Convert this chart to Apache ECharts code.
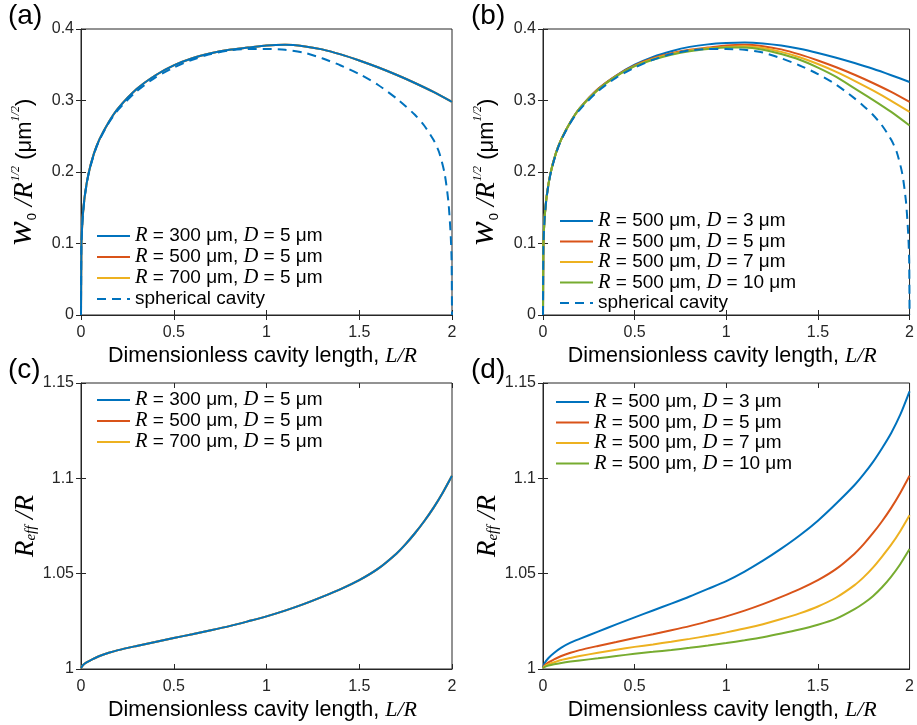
<!DOCTYPE html>
<html>
<head>
<meta charset="utf-8">
<script src="https://cdn.jsdelivr.net/npm/echarts@6/dist/echarts.min.js"></script>
<style>
  html, body { margin: 0; padding: 0; background: #fff; }
  #chart { width: 917px; height: 725px; }
</style>
</head>
<body>
<div id="chart"></div>
<script>
// ---- Waist size w0/R^(1/2) versus dimensionless cavity length L/R ----
const xsWaist = [0, 0.002, 0.005, 0.01, 0.02, 0.04, 0.07, 0.1, 0.15, 0.2, 0.3, 0.4, 0.5, 0.6, 0.7,
                 0.8, 0.9, 1.0, 1.1, 1.2, 1.3, 1.4, 1.5, 1.6, 1.7, 1.8, 1.9, 2.0];
// D = 5 um (curves for R = 300, 500 and 700 um coincide)
const waistD5 = [0, 0.093, 0.118, 0.140, 0.166, 0.197, 0.226, 0.246, 0.270, 0.289, 0.316, 0.335, 0.349, 0.359, 0.366,
                 0.371, 0.374, 0.377, 0.378, 0.376, 0.3715, 0.3645, 0.356, 0.3465, 0.336, 0.3245, 0.312, 0.298];
const waistD3 = [0, 0.093, 0.118, 0.140, 0.166, 0.197, 0.226, 0.246, 0.270, 0.289, 0.316, 0.335, 0.350, 0.361, 0.369,
                 0.375, 0.3785, 0.3803, 0.381, 0.3798, 0.3768, 0.3723, 0.3665, 0.3598, 0.3524, 0.3444, 0.3354, 0.3259];
const waistD7 = [0, 0.093, 0.118, 0.140, 0.166, 0.197, 0.226, 0.246, 0.270, 0.289, 0.315, 0.334, 0.348, 0.358, 0.365,
                 0.370, 0.373, 0.375, 0.376, 0.3735, 0.368, 0.3605, 0.351, 0.340, 0.3275, 0.314, 0.2995, 0.284];
const waistD10 = [0, 0.093, 0.118, 0.140, 0.166, 0.197, 0.226, 0.246, 0.270, 0.289, 0.315, 0.334, 0.348, 0.357, 0.364,
                  0.369, 0.372, 0.374, 0.374, 0.371, 0.365, 0.357, 0.346, 0.333, 0.317, 0.301, 0.284, 0.265];
// ideal spherical cavity
const xsSpherical = [0, 0.002, 0.005, 0.01, 0.02, 0.04, 0.07, 0.1, 0.15, 0.2, 0.3, 0.4, 0.5, 0.6, 0.7, 0.8, 0.9, 1.0,
                     1.1, 1.2, 1.3, 1.4, 1.5, 1.6, 1.7, 1.75, 1.8, 1.85, 1.9, 1.93, 1.96, 1.98, 1.99, 1.995, 1.998, 2.0];
const waistSpherical = [0, 0.093, 0.117, 0.139, 0.165, 0.196, 0.225, 0.245, 0.269, 0.287, 0.313, 0.332, 0.346, 0.357,
                        0.365, 0.370, 0.372, 0.372, 0.371, 0.367, 0.359, 0.349, 0.337, 0.322, 0.303, 0.292, 0.280,
                        0.265, 0.245, 0.228, 0.198, 0.160, 0.125, 0.100, 0.075, 0];

// ---- Effective radius of curvature R_eff/R ----
const xsReff = [0, 0.01, 0.03, 0.06, 0.1, 0.15, 0.2, 0.3, 0.4, 0.5, 0.6, 0.7, 0.8, 0.9, 1.0, 1.1, 1.2, 1.3, 1.4,
                1.5, 1.6, 1.7, 1.75, 1.8, 1.85, 1.9, 1.95, 2.0];
const reffD5 = [1.0005, 1.002, 1.0035, 1.005, 1.0068, 1.0085, 1.0099, 1.0121, 1.0142, 1.0163, 1.0182, 1.0203, 1.0225,
                1.025, 1.0276, 1.0306, 1.034, 1.0378, 1.0419, 1.0466, 1.0525, 1.0605, 1.0655, 1.0712, 1.0775, 1.0845,
                1.0925, 1.1014];
const reffD3 = [1.0008, 1.0033, 1.0058, 1.0084, 1.0112, 1.0138, 1.0158, 1.0196, 1.0234, 1.0271, 1.0307, 1.0343, 1.038,
                1.042, 1.0461, 1.0511, 1.0568, 1.0631, 1.070, 1.0778, 1.0868, 1.0965, 1.1022, 1.1085, 1.1158, 1.1238,
                1.1335, 1.1456];
const reffD7 = [1.0005, 1.0015, 1.0025, 1.0035, 1.0047, 1.0058, 1.0068, 1.0085, 1.0101, 1.0116, 1.0129, 1.0143, 1.0158,
                1.0174, 1.0192, 1.0212, 1.0235, 1.0262, 1.0292, 1.0328, 1.0375, 1.044, 1.0482, 1.0532, 1.059, 1.0652,
                1.0724, 1.0806];
const reffD10 = [1.0005, 1.0011, 1.0018, 1.0025, 1.0032, 1.0039, 1.0045, 1.0056, 1.0068, 1.008, 1.009, 1.01, 1.0111,
                 1.0123, 1.0136, 1.0151, 1.0167, 1.0186, 1.0207, 1.0232, 1.0264, 1.0314, 1.0345, 1.0382, 1.0429,
                 1.0485, 1.0551, 1.0629];

// axis ranges and tick spacing
const xRange = [0, 2], xStep = 0.5;
const waistRange = [0, 0.4], waistStep = 0.1;
const reffRange = [1, 1.15], reffStep = 0.05;

// legend entries
const namesR = ['R = 300 μm, D = 5 μm', 'R = 500 μm, D = 5 μm', 'R = 700 μm, D = 5 μm'];
const namesD = ['R = 500 μm, D = 3 μm', 'R = 500 μm, D = 5 μm', 'R = 500 μm, D = 7 μm', 'R = 500 μm, D = 10 μm'];
const nameSpherical = 'spherical cavity';

const C = { blue: '#0072BD', red: '#D95319', yellow: '#EDB120', green: '#77AC30' };
const INK = '#262626';
const SANS = '"Liberation Sans", Arial, sans-serif';
const SERIF = '"Liberation Serif", "Times New Roman", serif';

const pairs = (xs, ys) => xs.map((x, i) => [x, ys[i]]);

const grids = [
  { left: 81, top: 29, width: 371, height: 286 },
  { left: 543, top: 29, width: 371, height: 286 },
  { left: 81, top: 383, width: 371, height: 286 },
  { left: 543, top: 383, width: 371, height: 286 }
].map(g => Object.assign({ show: true, borderColor: INK, borderWidth: 1, backgroundColor: 'transparent' }, g));

const xName = '{s|Dimensionless cavity length, }{i|L/R}';
const xNameStyle = {
  padding: [0, 8, 0, 0],
  rich: {
    s: { fontFamily: SANS, fontSize: 21.5, color: '#000' },
    i: { fontFamily: SERIF, fontStyle: 'italic', fontSize: 22, color: '#000' }
  }
};

const waistName = '{w|w}{sub|0}{r| /R}{sup|1/2}{u| (μm}{sup2|1/2}{u|)}';
const waistNameStyle = {
  rich: {
    w: { fontFamily: SERIF, fontStyle: 'italic', fontSize: 36, color: '#000', padding: [0, 0, 6, 0] },
    sub: { fontFamily: SANS, fontSize: 13, color: '#000', padding: [14, 0, 0, 1] },
    r: { fontFamily: SERIF, fontStyle: 'italic', fontSize: 27, color: '#000' },
    sup: { fontFamily: SERIF, fontStyle: 'italic', fontSize: 12, color: '#000', padding: [0, 0, 18, 1] },
    u: { fontFamily: SANS, fontSize: 22, color: '#000' },
    sup2: { fontFamily: SERIF, fontStyle: 'italic', fontSize: 12, color: '#000', padding: [0, 0, 18, 0] }
  }
};

const reffName = '{r|R}{sub|eff}{r| /R}';
const reffNameStyle = {
  rich: {
    r: { fontFamily: SERIF, fontStyle: 'italic', fontSize: 27, color: '#000' },
    sub: { fontFamily: SERIF, fontStyle: 'italic', fontSize: 15, color: '#000', padding: [12, 0, 0, 0] }
  }
};

function xAxes(gi) {
  return [
    {
      type: 'value', gridIndex: gi, position: 'bottom', min: xRange[0], max: xRange[1], interval: xStep,
      axisLine: { show: true, lineStyle: { color: INK, width: 1 } },
      axisTick: { inside: true, length: 5, lineStyle: { color: INK } },
      axisLabel: { fontFamily: SANS, fontSize: 16, color: INK, margin: 10 },
      splitLine: { show: false },
      name: xName, nameLocation: 'middle', nameGap: 30, nameTextStyle: xNameStyle
    },
    {
      type: 'value', gridIndex: gi, position: 'top', min: xRange[0], max: xRange[1], interval: xStep,
      axisLine: { show: false }, axisLabel: { show: false }, splitLine: { show: false },
      axisTick: { inside: true, length: 5, lineStyle: { color: INK } }
    }
  ];
}

function yAxes(gi, range, step, name, nameStyle, gap) {
  return [
    {
      type: 'value', gridIndex: gi, position: 'left', min: range[0], max: range[1], interval: step,
      axisLine: { show: true, lineStyle: { color: INK, width: 1 } },
      axisTick: { inside: true, length: 5, lineStyle: { color: INK } },
      axisLabel: { fontFamily: SANS, fontSize: 16, color: INK, margin: 7 },
      splitLine: { show: false },
      name: name, nameLocation: 'middle', nameRotate: 90, nameGap: gap, nameTextStyle: nameStyle
    },
    {
      type: 'value', gridIndex: gi, position: 'right', min: range[0], max: range[1], interval: step,
      axisLine: { show: false }, axisLabel: { show: false }, splitLine: { show: false },
      axisTick: { inside: true, length: 5, lineStyle: { color: INK } }
    }
  ];
}

const xAxis = [].concat(xAxes(0), xAxes(1), xAxes(2), xAxes(3));
const yAxis = [].concat(
  yAxes(0, waistRange, waistStep, waistName, waistNameStyle, 35),
  yAxes(1, waistRange, waistStep, waistName, waistNameStyle, 35),
  yAxes(2, reffRange, reffStep, reffName, reffNameStyle, 36),
  yAxes(3, reffRange, reffStep, reffName, reffNameStyle, 36)
);

// panel gi uses xAxis/yAxis index 2*gi (bottom / left)
function line(gi, name, color, xs, ys, opts) {
  return Object.assign({
    type: 'line', name: name, xAxisIndex: 2 * gi, yAxisIndex: 2 * gi,
    data: pairs(xs, ys), symbol: 'none', showSymbol: false, smooth: 0.25,
    lineStyle: { color: color, width: 2 }, itemStyle: { color: color },
    animation: false, z: 2
  }, opts || {});
}
const dashed = { lineStyle: { color: C.blue, width: 2, type: [9, 6] } };

const series = [
  // (a)
  line(0, namesR[0], C.blue, xsWaist, waistD5, { z: 4 }),
  line(0, namesR[1], C.red, xsWaist, waistD5),
  line(0, namesR[2], C.yellow, xsWaist, waistD5),
  line(0, nameSpherical, C.blue, xsSpherical, waistSpherical, dashed),
  // (b)
  line(1, namesD[0], C.blue, xsWaist, waistD3),
  line(1, namesD[1], C.red, xsWaist, waistD5),
  line(1, namesD[2], C.yellow, xsWaist, waistD7),
  line(1, namesD[3], C.green, xsWaist, waistD10),
  line(1, nameSpherical, C.blue, xsSpherical, waistSpherical, dashed),
  // (c)
  line(2, namesR[0], C.blue, xsReff, reffD5, { z: 4 }),
  line(2, namesR[1], C.red, xsReff, reffD5),
  line(2, namesR[2], C.yellow, xsReff, reffD5),
  // (d)
  line(3, namesD[0], C.blue, xsReff, reffD3),
  line(3, namesD[1], C.red, xsReff, reffD5),
  line(3, namesD[2], C.yellow, xsReff, reffD7),
  line(3, namesD[3], C.green, xsReff, reffD10)
];

const legendText = {
  fontFamily: SANS, fontSize: 19, color: '#000', lineHeight: 20,
  rich: { i: { fontFamily: SERIF, fontStyle: 'italic', fontSize: 20.5, color: '#000', lineHeight: 20 } }
};
function legend(left, top, data, gap) {
  return {
    orient: 'vertical', left: left, top: top, padding: 0, itemGap: gap,
    itemWidth: 33, itemHeight: 12, data: data, selectedMode: false,
    itemStyle: { opacity: 0 },
    textStyle: legendText,
    formatter: n => n.replace(/\b([RD])\b/g, '{i|$1}')
  };
}

const panelLabel = (text, left, top) => ({
  type: 'text', left: left, top: top,
  style: { text: text, font: '28px ' + SANS, fill: '#000' }
});

const chart = echarts.init(document.getElementById('chart'), null, { renderer: 'canvas', width: 917, height: 725 });
chart.setOption({
  backgroundColor: '#fff',
  animation: false,
  grid: grids,
  xAxis: xAxis,
  yAxis: yAxis,
  legend: [
    legend(96, 226, namesR.concat([nameSpherical]), 1),
    legend(559, 211, namesD.concat([nameSpherical]), 0.5),
    legend(96, 390, namesR, 1),
    legend(555, 392, namesD, 0.5)
  ],
  graphic: [
    panelLabel('(a)', 8, 2),
    panelLabel('(b)', 471, 2),
    panelLabel('(c)', 8, 356),
    panelLabel('(d)', 471, 356)
  ],
  series: series
});
</script>
</body>
</html>
